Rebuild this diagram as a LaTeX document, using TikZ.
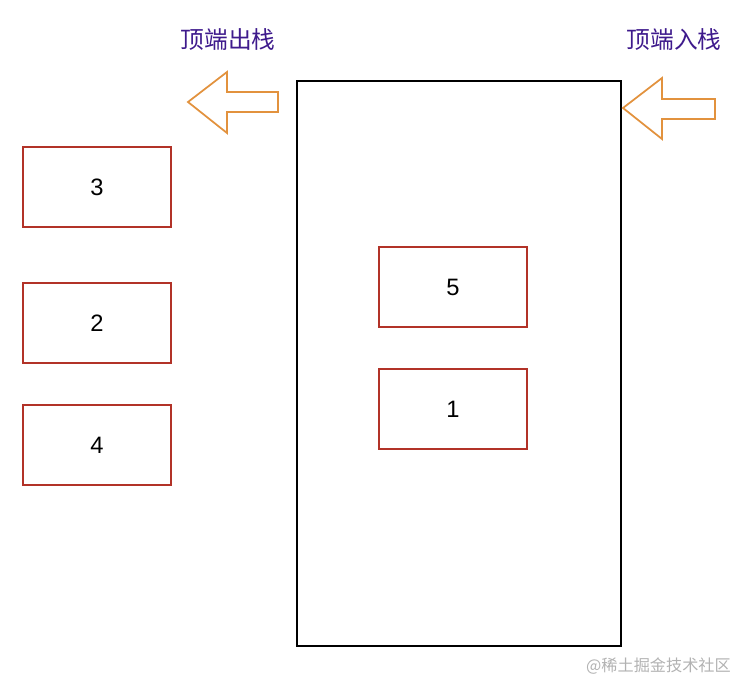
\documentclass[tikz,border=0pt]{standalone}
\usepackage{fontspec}
\setmainfont{Liberation Sans}
\newfontfamily\cjk{Noto Sans CJK SC}
\usepackage{tikz}
\usetikzlibrary{positioning}

\definecolor{boxred}{RGB}{178,50,40}
\definecolor{arroworange}{RGB}{226,146,62}
\definecolor{labelpurple}{RGB}{62,26,140}

\begin{document}
\begin{tikzpicture}[
    x=0.02cm, y=-0.02cm,
    item/.style={rectangle, draw=boxred, line width=1.1pt, minimum width=2.96cm, minimum height=1.6cm, font=\fontsize{13.5}{15}\selectfont},
    stack/.style={rectangle, draw, line width=0.9pt, minimum width=6.48cm, minimum height=11.3cm},
    caption/.style={text=labelpurple, font=\cjk\fontsize{13.5}{16}\selectfont},
    blockarrow/.style={draw=arroworange, line width=1pt, line join=miter}
]
    \useasboundingbox (0,0) rectangle (752,696);

    \node[stack] (st) at (459, 363.5) {};

    % elements inside the stack
    \node[item] (e5) at (453, 287) {5};
    \node[item] (e1) at (453, 409) {1};

    % popped elements
    \node[item] (e3) at (97, 187) {3};
    \node[item] (e2) at (97, 323) {2};
    \node[item] (e4) at (97, 445) {4};

    \node[caption] (pop) at (228, 40) {顶端出栈};
    \node[caption] (push) at (674, 40) {顶端入栈};

    % block arrows
    \draw[blockarrow] (188,102) -- (227,72) -- (227,92) -- (278,92) -- (278,112) -- (227,112) -- (227,133) -- cycle;
    \draw[blockarrow] (623,108) -- (662,78) -- (662,99) -- (715,99) -- (715,119) -- (662,119) -- (662,139) -- cycle;

    \node[text=black!30, font=\cjk\fontsize{9.2}{11}\selectfont, anchor=east] (mark) at (737, 666) {@稀土掘金技术社区};
\end{tikzpicture}
\end{document}
